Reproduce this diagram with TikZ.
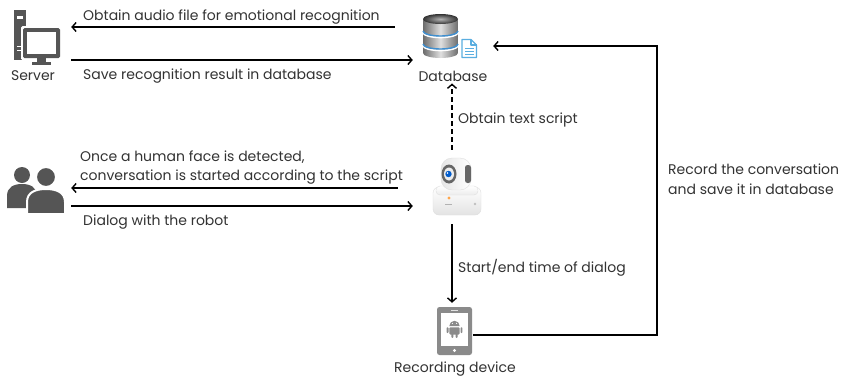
\documentclass[tikz,border=0pt]{standalone}
\usepackage{fontspec}
\setmainfont{Poppins}
\usetikzlibrary{arrows.meta,calc}
\definecolor{ink}{HTML}{333333}
\definecolor{icon}{HTML}{555555}
\definecolor{tabgray}{HTML}{8A8A8A}
\definecolor{docblue}{HTML}{5AAEE0}
\definecolor{dbband}{HTML}{3F8FD0}
\begin{document}
\begin{tikzpicture}[x=1pt,y=-1pt,
  lbl/.style={font=\fontsize{14}{19.5}\selectfont, text=ink, inner sep=0pt, anchor=west, align=left},
  iconlabel/.style={font=\fontsize{14}{19.5}\selectfont, text=ink, inner sep=0pt},
  arr/.style={line width=1.4pt, -{Straight Barb[length=4pt,width=9pt]}},
  dasharr/.style={arr, dash pattern=on 5pt off 3pt},
  box/.style={inner sep=0pt, draw=none}]
\useasboundingbox (0,0) rectangle (848,378);
\fill[white] (0,0) rectangle (848,378);

% ---------- icon placeholders ----------
\node[box, minimum width=61pt, minimum height=56pt] (srv) at (40.5,36) {};
\node[box, minimum width=77pt, minimum height=50pt] (db)  at (451.5,36) {};
\node[box, minimum width=66pt, minimum height=53pt] (ppl) at (38,188) {};
\node[box, minimum width=71pt, minimum height=74pt] (cam) at (448.5,187) {};
\node[box, minimum width=37pt, minimum height=54pt] (tab) at (454.5,330) {};

% ---------- server ----------
\fill[icon] (14,10) rectangle (26,60);
\fill[white] (17,16) rectangle (23,18.5);
\fill[white, rounded corners=1.5] (21,26) rectangle (62,60);
\fill[icon, rounded corners=1.5] (23,28) rectangle (60,58);
\fill[white] (27,32) rectangle (56,53.5);
\fill[icon] (37,58) rectangle (46,62);
\fill[icon] (32,62) rectangle (51,65);
\fill[white] (17,46) rectangle (21,47.2);
\fill[white] (17,50) rectangle (21,51.2);

% ---------- people ----------
\fill[icon] (22,175) circle (8);
\fill[icon] (7,208) -- (7,196) .. controls (7,187) and (14,184) .. (22,184)
  .. controls (30,184) and (37,187) .. (37,196) -- (37,208) -- cycle;
\filldraw[icon, draw=white, line width=2pt] (46,177) circle (10);
\filldraw[icon, draw=white, line width=2pt] (27,214) -- (27,202)
  .. controls (27,192) and (36,189) .. (46,189)
  .. controls (56,189) and (65,192) .. (65,202) -- (65,214) -- cycle;

% ---------- database ----------
\shade[left color=gray!85!black, right color=gray!85!black, middle color=gray!25]
  (423,19) -- (423,53) arc[start angle=180, end angle=0, x radius=17.5, y radius=5]
  -- (458,19) -- cycle;
\shade[inner color=gray!60, outer color=gray!40!black] (440.5,19) ellipse[x radius=17.5, y radius=5];
\draw[white, line width=1.6pt] (423,32.5) arc[start angle=180, end angle=0, x radius=17.5, y radius=5];
\draw[dbband, line width=1.4pt] (423,31) arc[start angle=180, end angle=0, x radius=17.5, y radius=5];
\draw[white, line width=1.6pt] (423,45.5) arc[start angle=180, end angle=0, x radius=17.5, y radius=5];
\draw[dbband, line width=1.4pt] (423,44) arc[start angle=180, end angle=0, x radius=17.5, y radius=5];
\filldraw[fill=white, draw=docblue, line width=1.1pt, line join=round]
  (462,39.5) -- (471,39.5) -- (476.5,45) -- (476.5,57.5) -- (462,57.5) -- cycle;
\draw[docblue, line width=1.1pt, line join=round] (471,39.5) -- (471,45) -- (476.5,45);
\draw[docblue, line width=1pt] (465,48.5) -- (473.5,48.5) (465,51.5) -- (473.5,51.5) (465,54.5) -- (473.5,54.5);

% ---------- robot camera ----------
\shade[top color=white, bottom color=gray!22, draw=gray!25, rounded corners=6]
  (433,187) rectangle (481,215);
\shade[top color=white, bottom color=gray!15, draw=gray!25, rounded corners=4]
  (436,186) rectangle (478,195);
\shade[left color=gray!20, right color=white, draw=gray!25, rounded corners=11]
  (441,158) rectangle (471,190);
\fill[gray!80!black] (449,174) ellipse[x radius=7.5, y radius=9.5];
\fill[gray!15] (449,174) ellipse[x radius=5, y radius=6.5];
\fill[blue!55!cyan!80!black] (448.5,174) circle (3.2);
\fill[white] (447.5,173) circle (0.8);
\fill[gray!80!black, rounded corners=2.5] (465,165) rectangle (471,183);
\fill[orange!70] (449,198) circle (1.6);
\fill[gray!60] (445,203.5) rectangle (452,204.3);
\fill[gray!50] (475,204) circle (1.4);

% ---------- recording device ----------
\fill[tabgray, rounded corners=2.5] (437,307) rectangle (472,355);
\fill[white] (441,313) rectangle (468,345.5);
\fill[white] (454.5,350.5) circle (1.7);
\fill[white!75!tabgray] (451,309.8) rectangle (458,310.8);
\begin{scope}[tabgray]
  \fill (449.3,326) arc[start angle=180, end angle=360, radius=5.2] -- cycle;
  \fill[rounded corners=1] (449.3,327.3) rectangle (459.7,334.5);
  \fill[rounded corners=0.8] (446.6,327.3) rectangle (448.5,333);
  \fill[rounded corners=0.8] (460.5,327.3) rectangle (462.4,333);
  \fill[rounded corners=0.8] (451.3,333) rectangle (453.3,337.8);
  \fill[rounded corners=0.8] (455.7,333) rectangle (457.7,337.8);
  \fill[white] (452.4,323.4) circle (0.6) (456.6,323.4) circle (0.6);
\end{scope}

% ---------- icon captions ----------
\node[iconlabel] (srvl) at (33,76) {Server};
\node[iconlabel] (dbl)  at (453,76) {Database};
\node[iconlabel] (tabl) at (455,369) {Recording device};

% ---------- connectors ----------
\draw[arr] ([xshift=-18pt]db.west |- 0,27) -- (srv.east |- 0,27);
\draw[arr] (srv.east |- 0,60) -- (db.west |- 0,60);
\draw[arr] ([xshift=-15pt]cam.west |- 0,188) -- (ppl.east |- 0,188);
\draw[arr] (ppl.east |- 0,206) -- (cam.west |- 0,206);
\draw[dasharr] (cam.north -| 452,0) -- ([yshift=-2pt]dbl.south -| 452,0);
\draw[arr] (cam.south -| 452,0) -- (tab.north -| 452,0);
\draw[arr] (tab.east |- 0,335) -| (657,46) -- ([xshift=3pt]db.east |- 0,46);

% ---------- connector labels ----------
\node[lbl] (t1) at (83,17) {Obtain audio file for emotional recognition};
\node[lbl] (t2) at (83,76) {Save recognition result in database};
\node[lbl] (t3) at (80,167.5) {Once a human face is detected,\\conversation is started according to the script};
\node[lbl] (t4) at (83,222) {Dialog with the robot};
\node[lbl] (t5) at (458,120) {Obtain text script};
\node[lbl] (t6) at (668,179) {Record the conversation\\and save it in database};
\node[lbl] (t7) at (458,268) {Start/end time of dialog};
\end{tikzpicture}
\end{document}
